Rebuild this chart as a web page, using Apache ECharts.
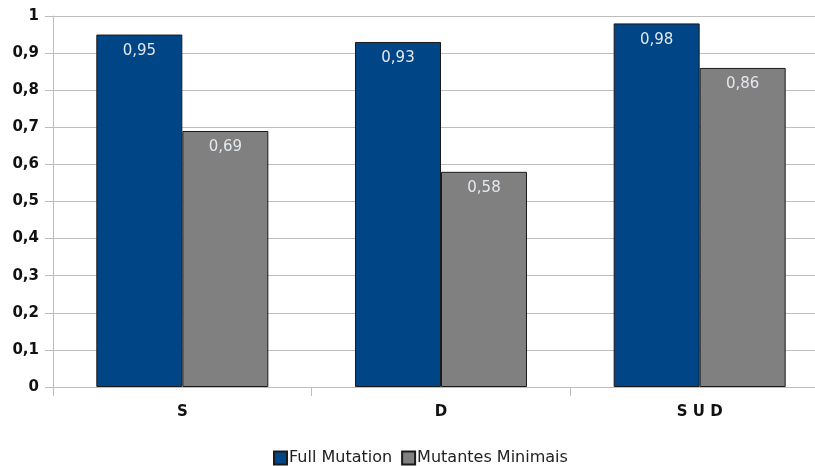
<!DOCTYPE html>
<html>
<head>
<meta charset="utf-8">
<script src="https://cdn.jsdelivr.net/npm/echarts@6/dist/echarts.min.js"></script>
<style>
html,body{margin:0;padding:0;background:#fff;overflow:hidden;}
/* the plot runs past the right edge of the 815px view */
#chart{width:829px;height:466px;}
</style>
</head>
<body>
<div id="chart"></div>
<script>
const categories = ['S', 'D', 'S U D'];
const fullMutation = [0.95, 0.93, 0.98];
const mutantesMinimais = [0.69, 0.58, 0.86];
const seriesNames = ['Full Mutation', 'Mutantes Minimais'];

const fmt = v => String(v).replace('.', ',');
const font = 'DejaVu Sans';

const labelStyle = {
  show: true,
  position: 'insideTop',
  distance: 9,
  color: '#e4e8ee',
  fontFamily: font,
  fontSize: 15,
  formatter: p => fmt(p.value)
};

const chart = echarts.init(document.getElementById('chart'));
chart.setOption({
  animation: false,
  textStyle: { fontFamily: font },
  grid: { left: 53, top: 16, right: 0, bottom: 79, containLabel: false },
  legend: {
    left: 268,
    top: 445,
    itemWidth: 13,
    itemHeight: 13,
    itemGap: 9,
    icon: 'rect',
    textStyle: { fontFamily: font, fontSize: 16, color: '#222', padding: [0, 0, 0, -3] },
    data: seriesNames
  },
  xAxis: {
    type: 'category',
    data: categories,
    axisLine: { lineStyle: { color: '#bdbdbd', width: 1 } },
    axisTick: { show: true, length: 9, lineStyle: { color: '#bdbdbd' } },
    axisLabel: { color: '#111', fontWeight: 'bold', fontSize: 15, fontFamily: font, margin: 18 }
  },
  yAxis: {
    type: 'value',
    min: 0,
    max: 1,
    interval: 0.1,
    axisLine: { show: true, lineStyle: { color: '#bdbdbd' } },
    axisTick: { show: true, length: 8, lineStyle: { color: '#bdbdbd' } },
    splitLine: { lineStyle: { color: '#bdbdbd' } },
    axisLabel: {
      color: '#111', fontWeight: 'bold', fontSize: 15, fontFamily: font, margin: 14,
      formatter: v => fmt(Math.round(v * 10) / 10)
    }
  },
  series: [
    {
      name: seriesNames[0],
      type: 'bar',
      data: fullMutation,
      barGap: '0%',
      barCategoryGap: '33.5%',
      itemStyle: { color: '#004586', borderColor: '#1a1a1a', borderWidth: 1 },
      label: labelStyle
    },
    {
      name: seriesNames[1],
      type: 'bar',
      data: mutantesMinimais,
      barGap: '0%',
      barCategoryGap: '33.5%',
      itemStyle: { color: '#808080', borderColor: '#1a1a1a', borderWidth: 1 },
      label: labelStyle
    }
  ]
});
</script>
</body>
</html>
